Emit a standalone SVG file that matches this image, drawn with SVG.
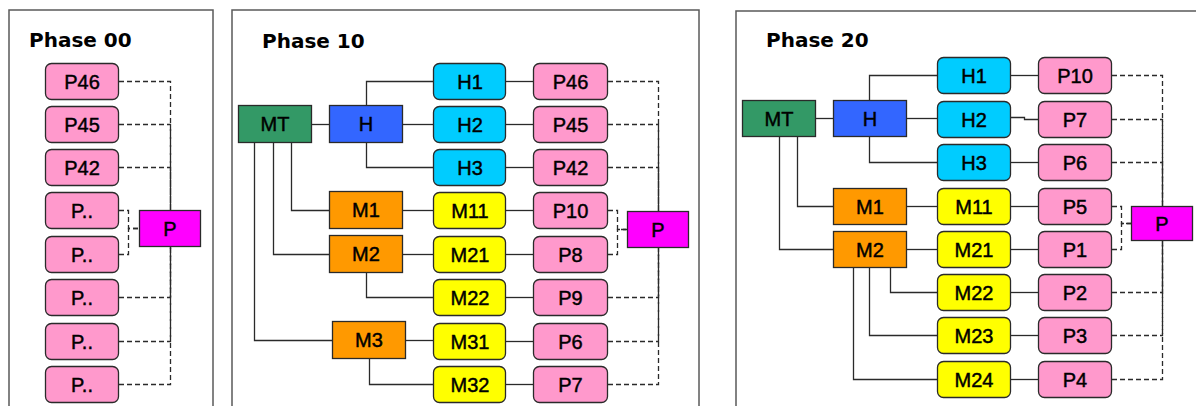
<svg xmlns="http://www.w3.org/2000/svg" width="1196" height="406" viewBox="0 0 1196 406">
<style>
.frame{fill:#fff;stroke:#5a5a5a;stroke-width:1.5}
.title{font-family:"DejaVu Sans",Verdana,sans-serif;font-weight:bold;font-size:20px;fill:#000}
.n rect{stroke:#2a2a2a;stroke-width:1.3}
.n text{font-family:"Liberation Sans",Arial,sans-serif;font-size:20px;fill:#000;stroke:#000;stroke-width:0.45;text-anchor:middle}
.pk rect{fill:#ff99cc}
.cy rect{fill:#00ccff}
.ye rect{fill:#ffff00}
.or rect{fill:#ff9900}
.bl rect{fill:#3366ff}
.gr rect{fill:#339966}
.mg rect{fill:#ff00ff}
.c path{fill:none;stroke:#2a2a2a;stroke-width:1.3}
.c .d{stroke-dasharray:5 3}
</style>
<rect class="frame" x="9" y="10" width="204" height="420"/>
<rect class="frame" x="232" y="10" width="467" height="420"/>
<rect class="frame" x="736" y="11" width="480" height="420"/>
<text class="title" x="29" y="47">Phase 00</text>
<text class="title" x="262" y="48">Phase 10</text>
<text class="title" x="766" y="47">Phase 20</text>

<g class="c" id="connectors">
<!-- Phase 00 -->
<path class="d" d="M119,81.5H170.5V210"/>
<path class="d" d="M119,124.5H170.5V210"/>
<path class="d" d="M119,167.5H170.5V210"/>
<path class="d" d="M119,210.5H128.5V228.5H139"/>
<path class="d" d="M119,254.5H128.5V228.5H139"/>
<path class="d" d="M119,297.5H170.5V247"/>
<path class="d" d="M119,341.5H170.5V247"/>
<path class="d" d="M119,384.5H170.5V247"/>
<!-- Phase 10 -->
<path d="M312,124.5H329"/>
<path d="M366.5,105V81.5H433"/>
<path d="M403,124.5H433"/>
<path d="M366.5,143V167.5H433"/>
<path d="M291.5,143V210.5H329"/>
<path d="M273.5,143V254.5H329"/>
<path d="M254.5,143V340.5H332"/>
<path d="M403,210.5H433"/>
<path d="M403,254.5H433"/>
<path d="M366.5,273V297.5H433"/>
<path d="M406,340.5H433"/>
<path d="M369.5,359V384.5H433"/>
<path d="M506,81.5H533"/>
<path d="M506,124.5H533"/>
<path d="M506,167.5H533"/>
<path d="M506,210.5H533"/>
<path d="M506,254.5H533"/>
<path d="M506,297.5H533"/>
<path d="M506,341.5H533"/>
<path d="M506,384.5H533"/>
<path class="d" d="M608,81.5H658.5V211"/>
<path class="d" d="M608,124.5H658.5V211"/>
<path class="d" d="M608,167.5H658.5V211"/>
<path class="d" d="M608,210.5H617.5V229.5H627"/>
<path class="d" d="M608,254.5H617.5V229.5H627"/>
<path class="d" d="M608,297.5H658.5V247"/>
<path class="d" d="M608,341.5H658.5V247"/>
<path class="d" d="M608,384.5H658.5V247"/>
<!-- Phase 20 -->
<path d="M816,118.5H833"/>
<path d="M869.5,100V75.5H937"/>
<path d="M907,118.5H937"/>
<path d="M869.5,137V162.5H937"/>
<path d="M797.5,137V206.5H833"/>
<path d="M779.5,137V249.5H833"/>
<path d="M907,206.5H937"/>
<path d="M907,249.5H937"/>
<path d="M890.5,268V292.5H937"/>
<path d="M869.5,268V335.5H937"/>
<path d="M853.5,268V379.5H937"/>
<path d="M1011,75.5H1038"/>
<path d="M1011,117.5H1024.5V119.5H1038"/>
<path d="M1011,162.5H1038"/>
<path d="M1011,206.5H1038"/>
<path d="M1011,249.5H1038"/>
<path d="M1011,292.5H1038"/>
<path d="M1011,335.5H1038"/>
<path d="M1011,379.5H1038"/>
<path class="d" d="M1112,75.5H1162.5V206"/>
<path class="d" d="M1112,119.5H1162.5V206"/>
<path class="d" d="M1112,162.5H1162.5V206"/>
<path class="d" d="M1112,206.5H1121.5V223.5H1131"/>
<path class="d" d="M1112,249.5H1121.5V223.5H1131"/>
<path class="d" d="M1112,292.5H1162.5V241"/>
<path class="d" d="M1112,335.5H1162.5V241"/>
<path class="d" d="M1112,379.5H1162.5V241"/>
</g>

<!-- Phase 00 nodes -->
<g id="p00-P46" class="n pk"><rect x="45.5" y="63.5" width="73" height="36" rx="6"/><text x="82" y="89">P46</text></g>
<g id="p00-P45" class="n pk"><rect x="45.5" y="106.5" width="73" height="36" rx="6"/><text x="82" y="132">P45</text></g>
<g id="p00-P42" class="n pk"><rect x="45.5" y="149.5" width="73" height="36" rx="6"/><text x="82" y="175">P42</text></g>
<g id="p00-Pa" class="n pk"><rect x="45.5" y="192.5" width="73" height="36" rx="6"/><text x="82" y="218">P..</text></g>
<g id="p00-Pb" class="n pk"><rect x="45.5" y="236.5" width="73" height="36" rx="6"/><text x="82" y="262">P..</text></g>
<g id="p00-Pc" class="n pk"><rect x="45.5" y="279.5" width="73" height="36" rx="6"/><text x="82" y="305">P..</text></g>
<g id="p00-Pd" class="n pk"><rect x="45.5" y="323.5" width="73" height="36" rx="6"/><text x="82" y="349">P..</text></g>
<g id="p00-Pe" class="n pk"><rect x="45.5" y="366.5" width="73" height="36" rx="6"/><text x="82" y="392">P..</text></g>
<g id="p00-P" class="n mg"><rect x="139.5" y="210.5" width="61" height="36"/><text x="170" y="236">P</text></g>

<!-- Phase 10 nodes -->
<g id="p10-MT" class="n gr"><rect x="238.5" y="105.5" width="73" height="37"/><text x="275" y="131">MT</text></g>
<g id="p10-H" class="n bl"><rect x="329.5" y="105.5" width="73" height="37"/><text x="366" y="131">H</text></g>
<g id="p10-H1" class="n cy"><rect x="433.5" y="63.5" width="72" height="36" rx="6"/><text x="470" y="89">H1</text></g>
<g id="p10-H2" class="n cy"><rect x="433.5" y="106.5" width="72" height="36" rx="6"/><text x="470" y="132">H2</text></g>
<g id="p10-H3" class="n cy"><rect x="433.5" y="149.5" width="72" height="36" rx="6"/><text x="470" y="175">H3</text></g>
<g id="p10-M1" class="n or"><rect x="329.5" y="191.5" width="73" height="37"/><text x="366" y="217">M1</text></g>
<g id="p10-M2" class="n or"><rect x="329.5" y="235.5" width="73" height="37"/><text x="366" y="261">M2</text></g>
<g id="p10-M3" class="n or"><rect x="332.5" y="321.5" width="73" height="37"/><text x="369" y="347">M3</text></g>
<g id="p10-M11" class="n ye"><rect x="433.5" y="192.5" width="72" height="36" rx="6"/><text x="470" y="218">M11</text></g>
<g id="p10-M21" class="n ye"><rect x="433.5" y="236.5" width="72" height="36" rx="6"/><text x="470" y="262">M21</text></g>
<g id="p10-M22" class="n ye"><rect x="433.5" y="279.5" width="72" height="36" rx="6"/><text x="470" y="305">M22</text></g>
<g id="p10-M31" class="n ye"><rect x="433.5" y="323.5" width="72" height="36" rx="6"/><text x="470" y="349">M31</text></g>
<g id="p10-M32" class="n ye"><rect x="433.5" y="366.5" width="72" height="36" rx="6"/><text x="470" y="392">M32</text></g>
<g id="p10-P46" class="n pk"><rect x="533.5" y="63.5" width="74" height="36" rx="6"/><text x="570.5" y="89">P46</text></g>
<g id="p10-P45" class="n pk"><rect x="533.5" y="106.5" width="74" height="36" rx="6"/><text x="570.5" y="132">P45</text></g>
<g id="p10-P42" class="n pk"><rect x="533.5" y="149.5" width="74" height="36" rx="6"/><text x="570.5" y="175">P42</text></g>
<g id="p10-P10" class="n pk"><rect x="533.5" y="192.5" width="74" height="36" rx="6"/><text x="570.5" y="218">P10</text></g>
<g id="p10-P8" class="n pk"><rect x="533.5" y="236.5" width="74" height="36" rx="6"/><text x="570.5" y="262">P8</text></g>
<g id="p10-P9" class="n pk"><rect x="533.5" y="279.5" width="74" height="36" rx="6"/><text x="570.5" y="305">P9</text></g>
<g id="p10-P6" class="n pk"><rect x="533.5" y="323.5" width="74" height="36" rx="6"/><text x="570.5" y="349">P6</text></g>
<g id="p10-P7" class="n pk"><rect x="533.5" y="366.5" width="74" height="36" rx="6"/><text x="570.5" y="392">P7</text></g>
<g id="p10-P" class="n mg"><rect x="627.5" y="211.5" width="61" height="36"/><text x="658" y="237">P</text></g>

<!-- Phase 20 nodes -->
<g id="p20-MT" class="n gr"><rect x="742.5" y="100.5" width="73" height="36"/><text x="779" y="126">MT</text></g>
<g id="p20-H" class="n bl"><rect x="833.5" y="100.5" width="73" height="36"/><text x="870" y="126">H</text></g>
<g id="p20-H1" class="n cy"><rect x="937.5" y="57.5" width="73" height="36" rx="6"/><text x="974" y="83">H1</text></g>
<g id="p20-H2" class="n cy"><rect x="937.5" y="101.5" width="73" height="36" rx="6"/><text x="974" y="127">H2</text></g>
<g id="p20-H3" class="n cy"><rect x="937.5" y="144.5" width="73" height="36" rx="6"/><text x="974" y="170">H3</text></g>
<g id="p20-M1" class="n or"><rect x="833.5" y="188.5" width="73" height="36"/><text x="870" y="214">M1</text></g>
<g id="p20-M2" class="n or"><rect x="833.5" y="231.5" width="73" height="36"/><text x="870" y="257">M2</text></g>
<g id="p20-M11" class="n ye"><rect x="937.5" y="188.5" width="73" height="36" rx="6"/><text x="974" y="214">M11</text></g>
<g id="p20-M21" class="n ye"><rect x="937.5" y="231.5" width="73" height="36" rx="6"/><text x="974" y="257">M21</text></g>
<g id="p20-M22" class="n ye"><rect x="937.5" y="274.5" width="73" height="36" rx="6"/><text x="974" y="300">M22</text></g>
<g id="p20-M23" class="n ye"><rect x="937.5" y="317.5" width="73" height="36" rx="6"/><text x="974" y="343">M23</text></g>
<g id="p20-M24" class="n ye"><rect x="937.5" y="361.5" width="73" height="36" rx="6"/><text x="974" y="387">M24</text></g>
<g id="p20-P10" class="n pk"><rect x="1038.5" y="57.5" width="73" height="36" rx="6"/><text x="1075" y="83">P10</text></g>
<g id="p20-P7" class="n pk"><rect x="1038.5" y="101.5" width="73" height="36" rx="6"/><text x="1075" y="127">P7</text></g>
<g id="p20-P6" class="n pk"><rect x="1038.5" y="144.5" width="73" height="36" rx="6"/><text x="1075" y="170">P6</text></g>
<g id="p20-P5" class="n pk"><rect x="1038.5" y="188.5" width="73" height="36" rx="6"/><text x="1075" y="214">P5</text></g>
<g id="p20-P1" class="n pk"><rect x="1038.5" y="231.5" width="73" height="36" rx="6"/><text x="1075" y="257">P1</text></g>
<g id="p20-P2" class="n pk"><rect x="1038.5" y="274.5" width="73" height="36" rx="6"/><text x="1075" y="300">P2</text></g>
<g id="p20-P3" class="n pk"><rect x="1038.5" y="317.5" width="73" height="36" rx="6"/><text x="1075" y="343">P3</text></g>
<g id="p20-P4" class="n pk"><rect x="1038.5" y="361.5" width="73" height="36" rx="6"/><text x="1075" y="387">P4</text></g>
<g id="p20-P" class="n mg"><rect x="1131.5" y="206.5" width="61" height="34"/><text x="1162" y="231">P</text></g>
</svg>
